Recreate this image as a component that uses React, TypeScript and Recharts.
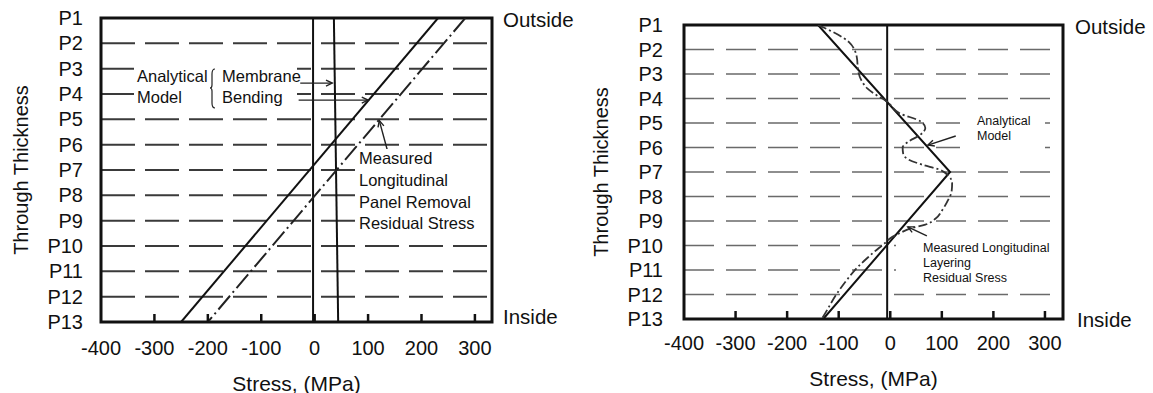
import { LineChart, Line, XAxis, YAxis, CartesianGrid, ReferenceLine, ReferenceArea } from "recharts";

const FONT = "'Liberation Sans', Arial, sans-serif";

// rows through the thickness, P1 (outside) .. P13 (inside)
const ROWS = [1, 2, 3, 4, 5, 6, 7, 8, 9, 10, 11, 12, 13];
const ROW_LABELS = ["P1", "P2", "P3", "P4", "P5", "P6", "P7", "P8", "P9", "P10", "P11", "P12", "P13"];
const STRESS_TICKS = [-400, -300, -200, -100, 0, 100, 200, 300];

// left panel: panel removal
const LEFT_BENDING = [
  { pos: 1, stress: 231 },
  { pos: 13, stress: -250 },
];
const LEFT_MEMBRANE = [
  { pos: 1, stress: 36 },
  { pos: 13, stress: 44 },
];
const LEFT_MEASURED = [
  { pos: 1, stress: 282 },
  { pos: 13, stress: -200 },
];

// right panel: layering
const RIGHT_ANALYTICAL = [
  { pos: 1, stress: -140 },
  { pos: 7, stress: 116 },
  { pos: 13, stress: -130 },
];
const RIGHT_MEASURED = [
  { pos: 1, stress: -140 },
  { pos: 1.7, stress: -80 },
  { pos: 2.3, stress: -65 },
  { pos: 2.9, stress: -62 },
  { pos: 3.3, stress: -55 },
  { pos: 3.6, stress: -44 },
  { pos: 3.9, stress: -24 },
  { pos: 4.1, stress: -8 },
  { pos: 4.6, stress: 18 },
  { pos: 4.95, stress: 60 },
  { pos: 5.2, stress: 68 },
  { pos: 5.5, stress: 57 },
  { pos: 5.75, stress: 36 },
  { pos: 6.0, stress: 24 },
  { pos: 6.25, stress: 25 },
  { pos: 6.5, stress: 36 },
  { pos: 6.7, stress: 62 },
  { pos: 6.9, stress: 95 },
  { pos: 7.15, stress: 113 },
  { pos: 7.45, stress: 120 },
  { pos: 7.8, stress: 119 },
  { pos: 8.15, stress: 112 },
  { pos: 8.55, stress: 101 },
  { pos: 8.9, stress: 88 },
  { pos: 9.15, stress: 68 },
  { pos: 9.3, stress: 40 },
  { pos: 9.5, stress: 18 },
  { pos: 9.7, stress: 0 },
  { pos: 9.9, stress: -10 },
  { pos: 10.1, stress: -22 },
  { pos: 10.5, stress: -44 },
  { pos: 10.9, stress: -64 },
  { pos: 11.4, stress: -84 },
  { pos: 11.95, stress: -103 },
  { pos: 12.9, stress: -130 },
  { pos: 13, stress: -133 },
];

const rowLabel = (v: number) => ROW_LABELS[ROWS.indexOf(v)] ?? "";

function StressTick(props: any) {
  const { x, y, payload, labelDy } = props;
  return (
    <g>
      {payload.value !== STRESS_TICKS[0] && (
        <line x1={x} y1={y} x2={x} y2={y - 8} stroke="#111" strokeWidth={2.5} />
      )}
      <text x={x} y={y + labelDy} textAnchor="middle" fontSize={20} fill="#111">
        {payload.value}
      </text>
    </g>
  );
}

function Leader(props: any) {
  const { x1, y1, x2, y2 } = props;
  if (x1 == null || x2 == null) return <g />;
  const a = Math.atan2(y2 - y1, x2 - x1);
  const len = 7;
  const p1 = [x2 - len * Math.cos(a - 0.45), y2 - len * Math.sin(a - 0.45)];
  const p2 = [x2 - len * Math.cos(a + 0.45), y2 - len * Math.sin(a + 0.45)];
  return (
    <g>
      <line x1={x1} y1={y1} x2={x2} y2={y2} stroke="#222" strokeWidth={1.4} />
      <path d={`M${p1[0]},${p1[1]} L${x2},${y2} L${p2[0]},${p2[1]}`} fill="none" stroke="#222" strokeWidth={1.4} />
    </g>
  );
}

function Panel({
  width,
  top,
  right,
  yAxisWidth,
  xAxisHeight,
  domain,
  zeroAt,
  labelDy,
  titleOffset,
  gridStroke,
  gridWidth,
  gridDash,
  children,
}: any) {
  // in a vertical layout the y range already runs top -> bottom, so P1 sits on top
  return (
    <LineChart
      layout="vertical"
      width={width}
      height={393}
      margin={{ top, right, bottom: 0, left: 0 }}
    >
      <CartesianGrid
        vertical={false}
        stroke={gridStroke}
        strokeWidth={gridWidth}
        strokeDasharray={gridDash}
      />
      <XAxis
        type="number"
        domain={domain}
        allowDataOverflow
        ticks={STRESS_TICKS}
        interval={0}
        height={xAxisHeight}
        axisLine={false}
        tickLine={false}
        tickSize={0}
        tickMargin={0}
        tick={<StressTick labelDy={labelDy} />}
        label={{ value: "Stress, (MPa)", position: "insideBottom", offset: titleOffset, fontSize: 21, fill: "#111" }}
      />
      <YAxis
        type="number"
        dataKey="pos"
        domain={[1, 13]}
        allowDataOverflow
        ticks={ROWS}
        interval={0}
        width={yAxisWidth}
        axisLine={false}
        tickLine={false}
        tickSize={0}
        tickMargin={yAxisWidth - 83}
        tickFormatter={rowLabel}
        tick={{ fontSize: 20, fill: "#111" }}
        label={{ value: "Through Thickness", angle: -90, position: "insideLeft", offset: 21, fontSize: 20, fill: "#111", style: { textAnchor: "middle" } }}
      />
      <ReferenceLine x={zeroAt} stroke="#111" strokeWidth={2} />
      {children}
      <ReferenceArea
        x1={domain[0]}
        x2={domain[1]}
        y1={1}
        y2={13}
        fill="none"
        stroke="#111"
        strokeWidth={3}
        ifOverflow="visible"
      />
    </LineChart>
  );
}

export default function App() {
  return (
    <div style={{ position: "absolute", left: 0, top: 0, width: 1153, height: 393, background: "#fff", fontFamily: FONT }}>
      <div style={{ position: "absolute", left: 0, top: 0 }}>
        <Panel
          width={580}
          top={18}
          right={88}
          yAxisWidth={101}
          xAxisHeight={71}
          domain={[-400, 332]}
          zeroAt={-3}
          labelDy={33}
          titleOffset={2.5}
          gridStroke="#3a3a3a"
          gridWidth={2}
          gridDash="34 10"
        >
          <Line data={LEFT_MEMBRANE} dataKey="stress" stroke="#111" strokeWidth={2} dot={false} activeDot={false} isAnimationActive={false} />
          <Line data={LEFT_BENDING} dataKey="stress" stroke="#111" strokeWidth={2} dot={false} activeDot={false} isAnimationActive={false} />
          <Line data={LEFT_MEASURED} dataKey="stress" stroke="#222" strokeWidth={2} strokeDasharray="18 4 2 4" dot={false} activeDot={false} isAnimationActive={false} />
          <ReferenceLine segment={[{ x: -27, y: 3.57 }, { x: 33, y: 3.57 }]} shape={Leader} />
          <ReferenceLine segment={[{ x: -30, y: 4.24 }, { x: 100, y: 4.24 }]} shape={Leader} />
          <ReferenceLine segment={[{ x: 136, y: 6.21 }, { x: 121, y: 5.05 }]} shape={Leader} />
        </Panel>
      </div>
      <div style={{ position: "absolute", left: 580, top: 0 }}>
        <Panel
          width={573}
          top={25}
          right={90}
          yAxisWidth={104}
          xAxisHeight={74}
          domain={[-400, 335]}
          zeroAt={-6}
          labelDy={31}
          titleOffset={7.5}
          gridStroke="#6a6a6a"
          gridWidth={1.6}
          gridDash="30 12"
        >
          <Line data={RIGHT_ANALYTICAL} dataKey="stress" stroke="#111" strokeWidth={2} dot={false} activeDot={false} isAnimationActive={false} />
          <Line data={RIGHT_MEASURED} type="monotone" dataKey="stress" stroke="#333" strokeWidth={1.8} strokeDasharray="9 3 2 3" dot={false} activeDot={false} isAnimationActive={false} />
          <ReferenceLine segment={[{ x: 127, y: 5.53 }, { x: 73, y: 5.9 }]} shape={Leader} />
          <ReferenceLine segment={[{ x: 71, y: 9.61 }, { x: 34, y: 9.24 }]} shape={Leader} />
        </Panel>
      </div>
      <svg
        width={1153}
        height={393}
        style={{ position: "absolute", left: 0, top: 0, pointerEvents: "none" }}
        fontFamily={FONT}
        fill="#111"
      >
        {/* white paper behind the notes, where the grid is broken */}
        <rect x={134} y={58} width={163} height={52} fill="#fff" />
        <rect x={357} y={149} width={130} height={84} fill="#fff" />
        <rect x={960} y={111} width={85} height={40} fill="#fff" />
        <rect x={896} y={240} width={165} height={44} fill="#fff" />

        <g fontSize={20.5}>
          <text x={503} y={27}>Outside</text>
          <text x={503} y={324}>Inside</text>
          <text x={1075} y={34}>Outside</text>
          <text x={1077} y={327}>Inside</text>
        </g>
        <g fontSize={16.5}>
          <text x={137} y={82}>Analytical</text>
          <text x={137} y={103}>Model</text>
          <text x={222} y={82}>Membrane</text>
          <text x={222} y={103}>Bending</text>
          <text x={359} y={164}>Measured</text>
          <text x={359} y={186}>Longitudinal</text>
          <text x={359} y={208}>Panel Removal</text>
          <text x={359} y={229}>Residual Stress</text>
        </g>
        <path
          d="M215,69 Q212,69 212,74 L212,85 Q212,88 210,88 Q212,88 212,91 L212,103 Q212,108 215,108"
          fill="none"
          stroke="#222"
          strokeWidth={1.2}
        />
        <g fontSize={12.5}>
          <text x={977} y={124.5}>Analytical</text>
          <text x={977} y={139.5}>Model</text>
          <text x={923} y={251.5}>Measured Longitudinal</text>
          <text x={923} y={266.5}>Layering</text>
          <text x={923} y={281.5}>Residual Sress</text>
        </g>
      </svg>
    </div>
  );
}
